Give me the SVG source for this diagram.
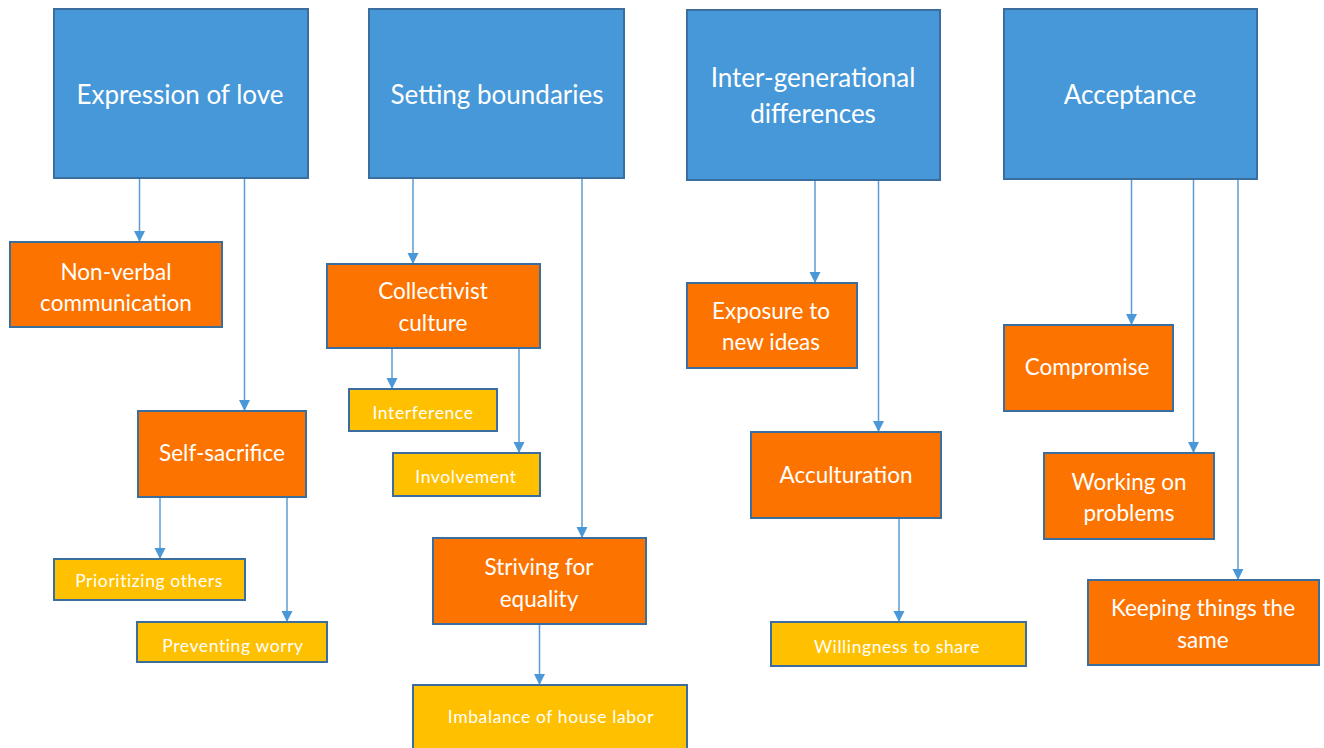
<svg xmlns="http://www.w3.org/2000/svg" width="1324" height="748" viewBox="0 0 1324 748">
<style>
.b{fill:#4698D9;stroke:#3A6E9E;stroke-width:2}
.o{fill:#FC7300;stroke:#3A6E9E;stroke-width:2}
.y{fill:#FFC000;stroke:#3A6E9E;stroke-width:2}
text{font-family:Lato,"Open Sans",sans-serif;fill:#FFFFFF;text-anchor:middle;dominant-baseline:central}
.tb{font-size:26px}
.to{font-size:22.5px}
.ty{font-size:17.5px;letter-spacing:0.6px}
.c{stroke:#5B9BD5;stroke-width:1.5;fill:none;marker-end:url(#ah)}
</style>
<defs>
<marker id="ah" viewBox="0 0 10 10" refX="10" refY="5" markerWidth="11" markerHeight="12" markerUnits="userSpaceOnUse" orient="auto">
<path d="M0,0 L10,5 L0,10 z" fill="#4A98D8"/>
</marker>
</defs>
<rect width="1324" height="748" fill="#FFFFFF"/>
<g id="connectors">
<line class="c" x1="139.5" y1="178" x2="139.5" y2="242"/>
<line class="c" x1="244.5" y1="178" x2="244.5" y2="411"/>
<line class="c" x1="160" y1="497" x2="160" y2="559"/>
<line class="c" x1="287" y1="497" x2="287" y2="622"/>
<line class="c" x1="413" y1="178" x2="413" y2="264"/>
<line class="c" x1="582" y1="178" x2="582" y2="538"/>
<line class="c" x1="392" y1="348" x2="392" y2="389"/>
<line class="c" x1="519" y1="348" x2="519" y2="453"/>
<line class="c" x1="539.5" y1="624" x2="539.5" y2="685"/>
<line class="c" x1="815" y1="180" x2="815" y2="283"/>
<line class="c" x1="878.5" y1="180" x2="878.5" y2="432"/>
<line class="c" x1="899" y1="518" x2="899" y2="622"/>
<line class="c" x1="1131.5" y1="179" x2="1131.5" y2="325"/>
<line class="c" x1="1193.5" y1="179" x2="1193.5" y2="453"/>
<line class="c" x1="1238" y1="179" x2="1238" y2="580"/>
</g>
<g id="expression-of-love"><rect class="b" x="54" y="9" width="254" height="169"/><text class="tb" x="180" y="94">Expression of love</text></g>
<g id="setting-boundaries"><rect class="b" x="369" y="9" width="255" height="169"/><text class="tb" x="497" y="94">Setting boundaries</text></g>
<g id="inter-generational"><rect class="b" x="687" y="10" width="253" height="170"/><text class="tb" x="813" y="77">Inter-generational</text><text class="tb" x="813" y="113">differences</text></g>
<g id="acceptance"><rect class="b" x="1004" y="9" width="253" height="170"/><text class="tb" x="1130" y="94">Acceptance</text></g>
<g id="non-verbal"><rect class="o" x="10" y="242" width="212" height="85"/><text class="to" x="116" y="271">Non-verbal</text><text class="to" x="116" y="302">communication</text></g>
<g id="self-sacrifice"><rect class="o" x="138" y="411" width="168" height="86"/><text class="to" x="222" y="452">Self-sacrifice</text></g>
<g id="prioritizing-others"><rect class="y" x="54" y="559" width="191" height="41"/><text class="ty" x="149" y="580">Prioritizing others</text></g>
<g id="preventing-worry"><rect class="y" x="137" y="622" width="190" height="40"/><text class="ty" x="233" y="645">Preventing worry</text></g>
<g id="collectivist-culture"><rect class="o" x="327" y="264" width="213" height="84"/><text class="to" x="433" y="290">Collectivist</text><text class="to" x="433" y="322">culture</text></g>
<g id="interference"><rect class="y" x="349" y="389" width="148" height="42"/><text class="ty" x="423" y="412">Interference</text></g>
<g id="involvement"><rect class="y" x="393" y="453" width="147" height="43"/><text class="ty" x="466" y="476">Involvement</text></g>
<g id="striving-for-equality"><rect class="o" x="433" y="538" width="213" height="86"/><text class="to" x="539" y="566">Striving for</text><text class="to" x="539" y="598">equality</text></g>
<g id="imbalance-of-house-labor"><rect class="y" x="413" y="685" width="274" height="70"/><text class="ty" x="551" y="716">Imbalance of house labor</text></g>
<g id="exposure-to-new-ideas"><rect class="o" x="687" y="283" width="170" height="85"/><text class="to" x="771" y="310">Exposure to</text><text class="to" x="771" y="341">new ideas</text></g>
<g id="acculturation"><rect class="o" x="751" y="432" width="190" height="86"/><text class="to" x="846" y="474">Acculturation</text></g>
<g id="willingness-to-share"><rect class="y" x="771" y="622" width="255" height="44"/><text class="ty" x="897" y="646">Willingness to share</text></g>
<g id="compromise"><rect class="o" x="1004" y="325" width="169" height="86"/><text class="to" x="1087" y="366">Compromise</text></g>
<g id="working-on-problems"><rect class="o" x="1044" y="453" width="170" height="86"/><text class="to" x="1129" y="481">Working on</text><text class="to" x="1129" y="512">problems</text></g>
<g id="keeping-things-the-same"><rect class="o" x="1088" y="580" width="231" height="85"/><text class="to" x="1203" y="607">Keeping things the</text><text class="to" x="1203" y="639">same</text></g>
</svg>
